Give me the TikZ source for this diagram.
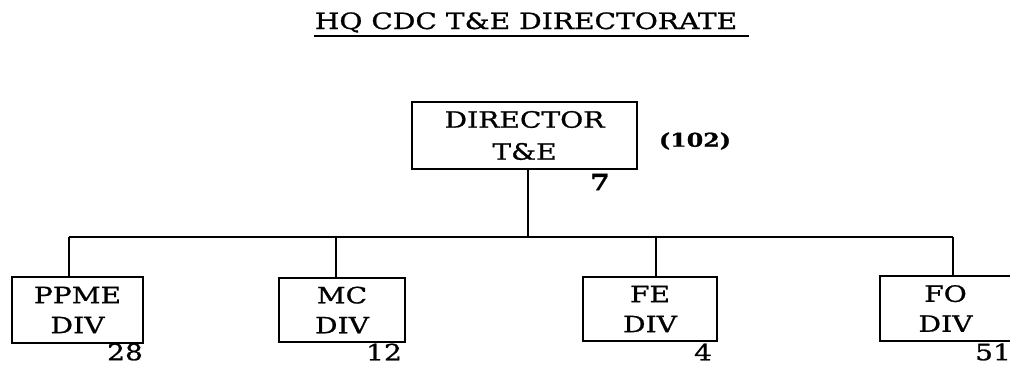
\documentclass[tikz,border=0pt]{standalone}
\usepackage{fontspec}
\setmainfont[FakeStretch=1.25,FakeBold=1]{DejaVu Serif}
\begin{document}
\begin{tikzpicture}[x=1pt,y=-1pt,
  line width=1.8pt,
  txt/.style={font=\fontsize{22.5}{32}\selectfont, inner sep=0pt},
  unit/.style={txt, draw, rectangle, align=center},
  num/.style={txt, anchor=center}]
\useasboundingbox (0,0) rectangle (1010,370);
% title
\node[txt, anchor=base] (title) at (526,29) {HQ CDC T\&E DIRECTORATE};
\draw[line width=1.6pt] (title.base west |- 0,36) ++(0,0) coordinate (ul1) -- (749,36) coordinate (ul2);
% director
\node[unit, minimum width=225pt, minimum height=67pt] (dir) at (524.5,135.5) {DIRECTOR\\T\&E};
\node[num, font=\fontsize{22.5}{32}\selectfont\bfseries] (n7) at (600,182) {7};
\node[num, font=\fontsize{19}{32}\selectfont\bfseries] (tot) at (695,141) {(102)};
% bus
\coordinate (j) at (528,237);
\coordinate (b1) at (69,237);
\coordinate (b2) at (336,237);
\coordinate (b3) at (656,237);
\coordinate (b4) at (953,237);
% divisions
\node[unit, minimum width=131pt, minimum height=66pt, font=\fontsize{22.5}{30}\selectfont] (ppme) at (77.5,310) {PPME\\DIV};
\node[unit, minimum width=126pt, minimum height=64pt, font=\fontsize{22.5}{30}\selectfont] (mc) at (342,310) {MC\\DIV};
\node[unit, minimum width=134pt, minimum height=64pt, font=\fontsize{22.5}{30}\selectfont] (fe) at (650,309) {FE\\DIV};
\node[txt, align=center, minimum width=129pt, minimum height=63pt, font=\fontsize{22.5}{30}\selectfont] (fo) at (945.5,308.5) {FO\\DIV};
\draw (fo.north east) -- (fo.north west) -- (fo.south west) -- (fo.south east);
\node[num] (n28) at (125,352) {28};
\node[num] (n12) at (384,352) {12};
\node[num] (n4) at (703,352) {4};
\node[num] (n51) at (993,352) {51};
% connectors
\draw (dir.south -| j) -- (j);
\draw (b1) -- (b4);
\draw (b1) -- (b1 |- ppme.north);
\draw (b2) -- (b2 |- mc.north);
\draw (b3) -- (b3 |- fe.north);
\draw (b4) -- (b4 |- fo.north);
\end{tikzpicture}
\end{document}
